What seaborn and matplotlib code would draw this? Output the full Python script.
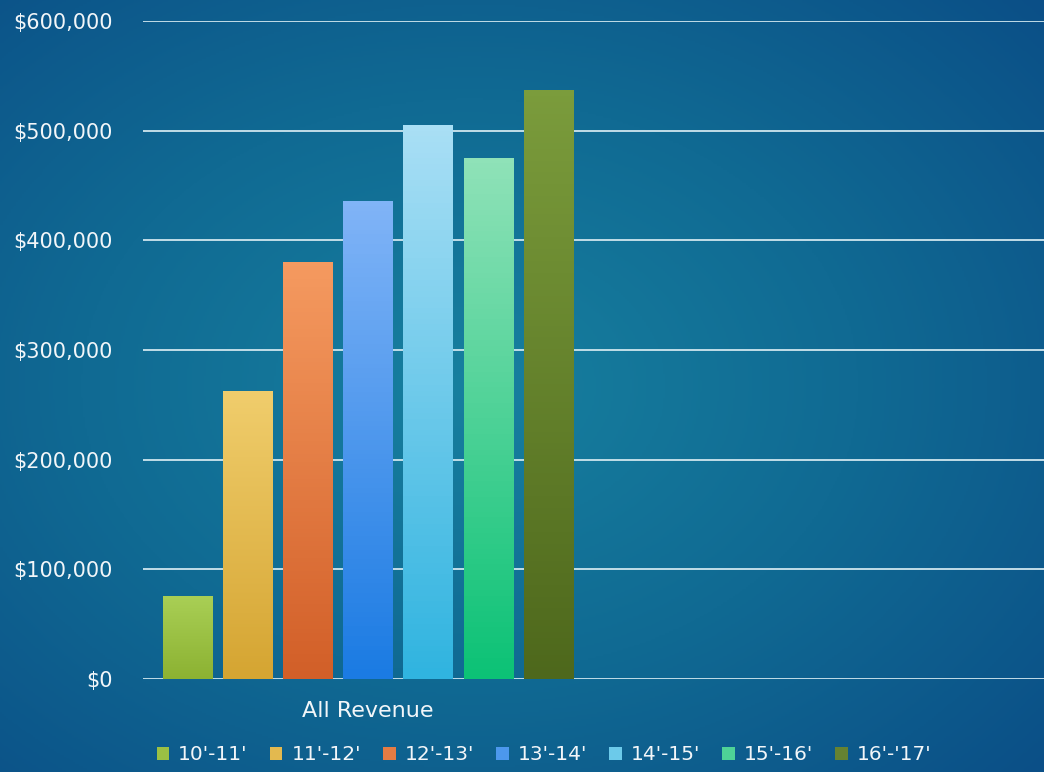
import numpy as np
import pandas as pd
import seaborn as sns
import matplotlib.pyplot as plt
from matplotlib.colors import LinearSegmentedColormap
from matplotlib.ticker import FuncFormatter

# Data
seasons = ["10'-11'", "11'-12'", "12'-13'", "13'-14'", "14'-15'", "15'-16'", "16'-'17'"]
revenue = [75000, 262000, 380000, 435000, 505000, 475000, 537000]
categories = ["All Revenue", " "]

# Bar colours (top of bar, bottom of bar)
top_colors = ['#a9cf55', '#f0cd6c', '#f59a60', '#80b4f7', '#a9dff5', '#8fe2b8', '#7b9c3c']
bottom_colors = ['#8cb232', '#d5a532', '#d25f28', '#1b7be3', '#30b4e0', '#0cc276', '#4e681c']
mid_colors = ['#9bc044', '#e3b94f', '#e47c44', '#4c98ed', '#6ccaea', '#4ed297', '#658231']

df = pd.DataFrame({
    'Category': ["All Revenue"] * len(seasons),
    'Season': seasons,
    'Revenue': revenue,
})

sns.set_style("white")
plt.rcParams['font.family'] = ['DejaVu Sans']

fig = plt.figure(figsize=(10.44, 7.72), dpi=100)
fig.patch.set_facecolor('#0d5d8f')

# background: radial gradient
bg_ax = fig.add_axes([0, 0, 1, 1], zorder=0)
yy, xx = np.mgrid[0:1:400j, 0:1:540j]
dist = np.sqrt(((xx - 0.45) / 0.8) ** 2 + ((yy - 0.5) / 0.8) ** 2)
dist = np.clip(dist / dist.max(), 0, 1)
bg_cmap = LinearSegmentedColormap.from_list('bg', ['#17809f', '#106a93', '#0b4f87'])
bg_ax.imshow(dist, cmap=bg_cmap, aspect='auto', extent=[0, 1, 0, 1], origin='upper')
bg_ax.set_axis_off()

ax = fig.add_axes([143 / 1044, 1 - 679 / 772, 1 - 143 / 1044, (679 - 21) / 772], zorder=1)
ax.patch.set_alpha(0)

sns.barplot(data=df, x='Category', y='Revenue', hue='Season', order=categories,
            hue_order=seasons, palette=mid_colors, width=0.936, gap=0.17,
            ax=ax, saturation=1, errorbar=None, linewidth=0, edgecolor='none')

# gradient fill on each bar
for patch, c_top, c_bot in zip(ax.patches[:len(seasons)], top_colors, bottom_colors):
    x, y = patch.get_x(), patch.get_y()
    w, h = patch.get_width(), patch.get_height()
    cmap = LinearSegmentedColormap.from_list('g', [c_bot, c_top])
    grad = np.linspace(1, 0, 100).reshape(-1, 1)
    ax.imshow(grad, cmap=cmap, extent=[x, x + w, y, y + h], aspect='auto',
              zorder=patch.get_zorder() + 0.1, vmin=0, vmax=1)

ax.set_xlim(-0.5, 1.5)
ax.set_ylim(0, 600000)
ax.set_yticks(np.arange(0, 600001, 100000))
ax.yaxis.set_major_formatter(FuncFormatter(lambda v, p: f'${v:,.0f}'))
ax.grid(axis='y', color='#cfe6ee', linewidth=1.3)
ax.set_axisbelow(True)
for s in ax.spines.values():
    s.set_visible(False)
ax.tick_params(axis='y', length=0, pad=22, labelsize=15, labelcolor='#f2f6f9')
ax.tick_params(axis='x', length=0, pad=16, labelsize=16, labelcolor='#f2f6f9')
ax.set_xlabel('')
ax.set_ylabel('')

sns.move_legend(ax, 'center', bbox_to_anchor=(544 / 1044, 1 - 755 / 772),
                bbox_transform=fig.transFigure, ncol=7, frameon=False, title=None,
                handlelength=0.62, handleheight=0.62, handletextpad=0.45,
                columnspacing=1.1, fontsize=14.5, labelcolor='#f2f6f9')
for h in ax.get_legend().legend_handles:
    h.set_edgecolor('none')

fig.savefig('out.png', dpi=100)
